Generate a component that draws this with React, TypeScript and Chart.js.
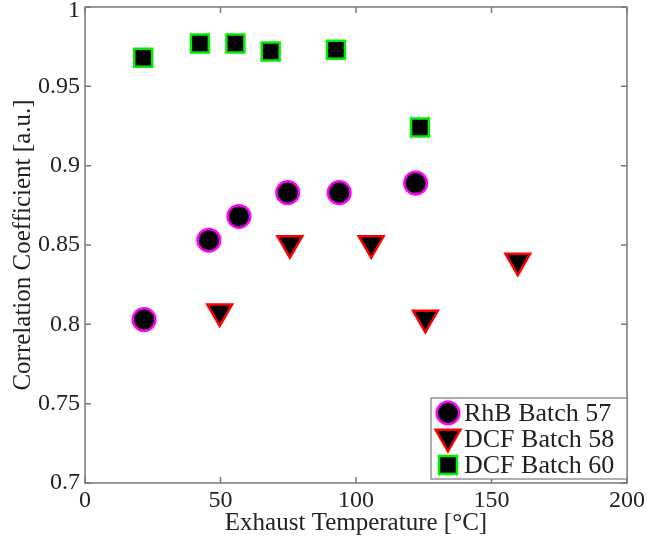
import { useEffect, useRef } from 'react';
import { Chart, registerables } from 'chart.js';
import { drawPoint } from 'chart.js/helpers';

Chart.register(...registerables);

// ---- data ----
const xTicks = [0, 50, 100, 150, 200];
const yTicks = [0.7, 0.75, 0.8, 0.85, 0.9, 0.95, 1];

const rhbLabel = 'RhB Batch 57';
const rhbTemp = [21.8, 45.7, 56.8, 74.8, 93.8, 122.0];
const rhbCorr = [0.803, 0.853, 0.868, 0.883, 0.883, 0.889];

const dcf58Label = 'DCF Batch 58';
const dcf58Temp = [49.7, 75.6, 105.6, 125.6, 159.7];
const dcf58Corr = [0.808, 0.851, 0.851, 0.804, 0.840];

const dcf60Label = 'DCF Batch 60';
const dcf60Temp = [21.5, 42.4, 55.5, 68.5, 92.6, 123.6];
const dcf60Corr = [0.968, 0.977, 0.977, 0.972, 0.973, 0.924];

const xTitle = 'Exhaust Temperature [°C]';
const yTitle = 'Correlation Coefficient [a.u.]';

const FONT = '"Liberation Serif", "Times New Roman", serif';
const AXIS_COLOR = '#7a7a7a';
const TEXT_COLOR = '#222222';

const toPoints = (xs: number[], ys: number[]) => xs.map((x, i) => ({ x, y: ys[i] }));

const boxPlugin = {
  id: 'matlabBox',
  afterDatasetsDraw(chart: any) {
    const { ctx, chartArea } = chart;
    const { left, right, top, bottom } = chartArea;
    const xs = chart.scales.x;
    const ys = chart.scales.y;
    ctx.save();
    ctx.strokeStyle = AXIS_COLOR;
    ctx.lineWidth = 1.5;
    ctx.strokeRect(left, top, right - left, bottom - top);
    const tl = 6;
    ctx.beginPath();
    xTicks.forEach((v) => {
      const px = xs.getPixelForValue(v);
      ctx.moveTo(px, bottom);
      ctx.lineTo(px, bottom - tl);
      ctx.moveTo(px, top);
      ctx.lineTo(px, top + tl);
    });
    yTicks.forEach((v) => {
      const py = ys.getPixelForValue(v);
      ctx.moveTo(left, py);
      ctx.lineTo(left + tl, py);
      ctx.moveTo(right, py);
      ctx.lineTo(right - tl, py);
    });
    ctx.stroke();
    ctx.restore();
  },
};

const legendPlugin = {
  id: 'insideLegend',
  afterDraw(chart: any) {
    const { ctx, chartArea } = chart;
    const w = 196;
    const h = 81;
    const x0 = chartArea.right - w;
    const y0 = chartArea.bottom - 4 - h;
    ctx.save();
    ctx.fillStyle = '#ffffff';
    ctx.fillRect(x0, y0, w, h);
    ctx.strokeStyle = AXIS_COLOR;
    ctx.lineWidth = 1.2;
    ctx.strokeRect(x0, y0, w, h);
    ctx.font = `26px ${FONT}`;
    ctx.textBaseline = 'middle';
    ctx.textAlign = 'left';
    chart.data.datasets.forEach((ds: any, i: number) => {
      const my = y0 + 15 + i * 26;
      const mx = x0 + 17;
      ctx.fillStyle = ds.backgroundColor;
      ctx.strokeStyle = ds.borderColor;
      ctx.lineWidth = ds.borderWidth;
      drawPoint(ctx, {
        pointStyle: ds.pointStyle,
        rotation: ds.rotation || 0,
        radius: ds.pointRadius,
        borderWidth: ds.borderWidth,
      } as any, mx, ds.pointStyle === 'triangle' ? my - 2 : my);
      ctx.fillStyle = TEXT_COLOR;
      ctx.fillText(ds.label, x0 + 33, my + 1);
    });
    ctx.restore();
  },
};

export default function App() {
  const ref = useRef<HTMLCanvasElement | null>(null);

  useEffect(() => {
    if (!ref.current) return;
    const chart = new Chart(ref.current, {
      type: 'scatter',
      data: {
        datasets: [
          {
            label: rhbLabel,
            data: toPoints(rhbTemp, rhbCorr),
            pointStyle: 'circle',
            pointRadius: 11.3,
            backgroundColor: '#000000',
            borderColor: '#ff00ff',
            borderWidth: 2.5,
          } as any,
          {
            label: dcf58Label,
            data: toPoints(dcf58Temp, dcf58Corr),
            pointStyle: 'triangle',
            rotation: 180,
            pointRotation: 180,
            pointRadius: 14.3,
            backgroundColor: '#000000',
            borderColor: '#ff0000',
            borderWidth: 2.5,
          } as any,
          {
            label: dcf60Label,
            data: toPoints(dcf60Temp, dcf60Corr),
            pointStyle: 'rect',
            pointRadius: 12.7,
            backgroundColor: '#000000',
            borderColor: '#00ee00',
            borderWidth: 2.5,
          } as any,
        ],
      },
      options: {
        responsive: false,
        animation: false,
        devicePixelRatio: 1,
        clip: false,
        layout: { autoPadding: false, padding: { left: 0, top: 7, right: 20, bottom: 0 } },
        plugins: {
          legend: { display: false },
          tooltip: { enabled: false },
        },
        scales: {
          x: {
            type: 'linear',
            min: 0,
            max: 200,
            grid: { display: false, drawTicks: false },
            border: { display: false },
            afterBuildTicks: (s: any) => {
              s.ticks = xTicks.map((v) => ({ value: v }));
            },
            afterFit: (s: any) => {
              s.height = 59;
              s.paddingLeft = 0;
              s.paddingRight = 0;
            },
            ticks: {
              color: TEXT_COLOR,
              font: { family: FONT, size: 24 },
              padding: 3,
              maxRotation: 0,
              autoSkip: false,
              callback: (v: any) => String(v),
            },
            title: {
              display: true,
              text: xTitle,
              color: TEXT_COLOR,
              font: { family: FONT, size: 25 },
              padding: { top: 0, bottom: 4 },
            },
          },
          y: {
            type: 'linear',
            min: 0.7,
            max: 1,
            grid: { display: false, drawTicks: false },
            border: { display: false },
            afterBuildTicks: (s: any) => {
              s.ticks = yTicks.map((v) => ({ value: v }));
            },
            afterFit: (s: any) => {
              s.width = 85;
              s.paddingTop = 0;
              s.paddingBottom = 0;
            },
            ticks: {
              color: TEXT_COLOR,
              font: (c: any) =>
                c.tick && c.tick.value === 1
                  ? { family: FONT, size: 24, lineHeight: 0.34 }
                  : { family: FONT, size: 24 },
              padding: 5,
              autoSkip: false,
              callback: (v: any) => (v === 1 ? ['', String(v)] : String(v)),
            },
            title: {
              display: true,
              text: yTitle,
              color: TEXT_COLOR,
              font: { family: FONT, size: 25 },
              padding: { top: 8, bottom: 0 },
            },
          },
        },
      },
      plugins: [boxPlugin, legendPlugin],
    } as any);
    return () => chart.destroy();
  }, []);

  return (
    <div style={{ position: 'absolute', left: 0, top: 0, width: 647, height: 542, background: '#fff' }}>
      <canvas ref={ref} width={647} height={542} style={{ display: 'block' }} />
    </div>
  );
}
